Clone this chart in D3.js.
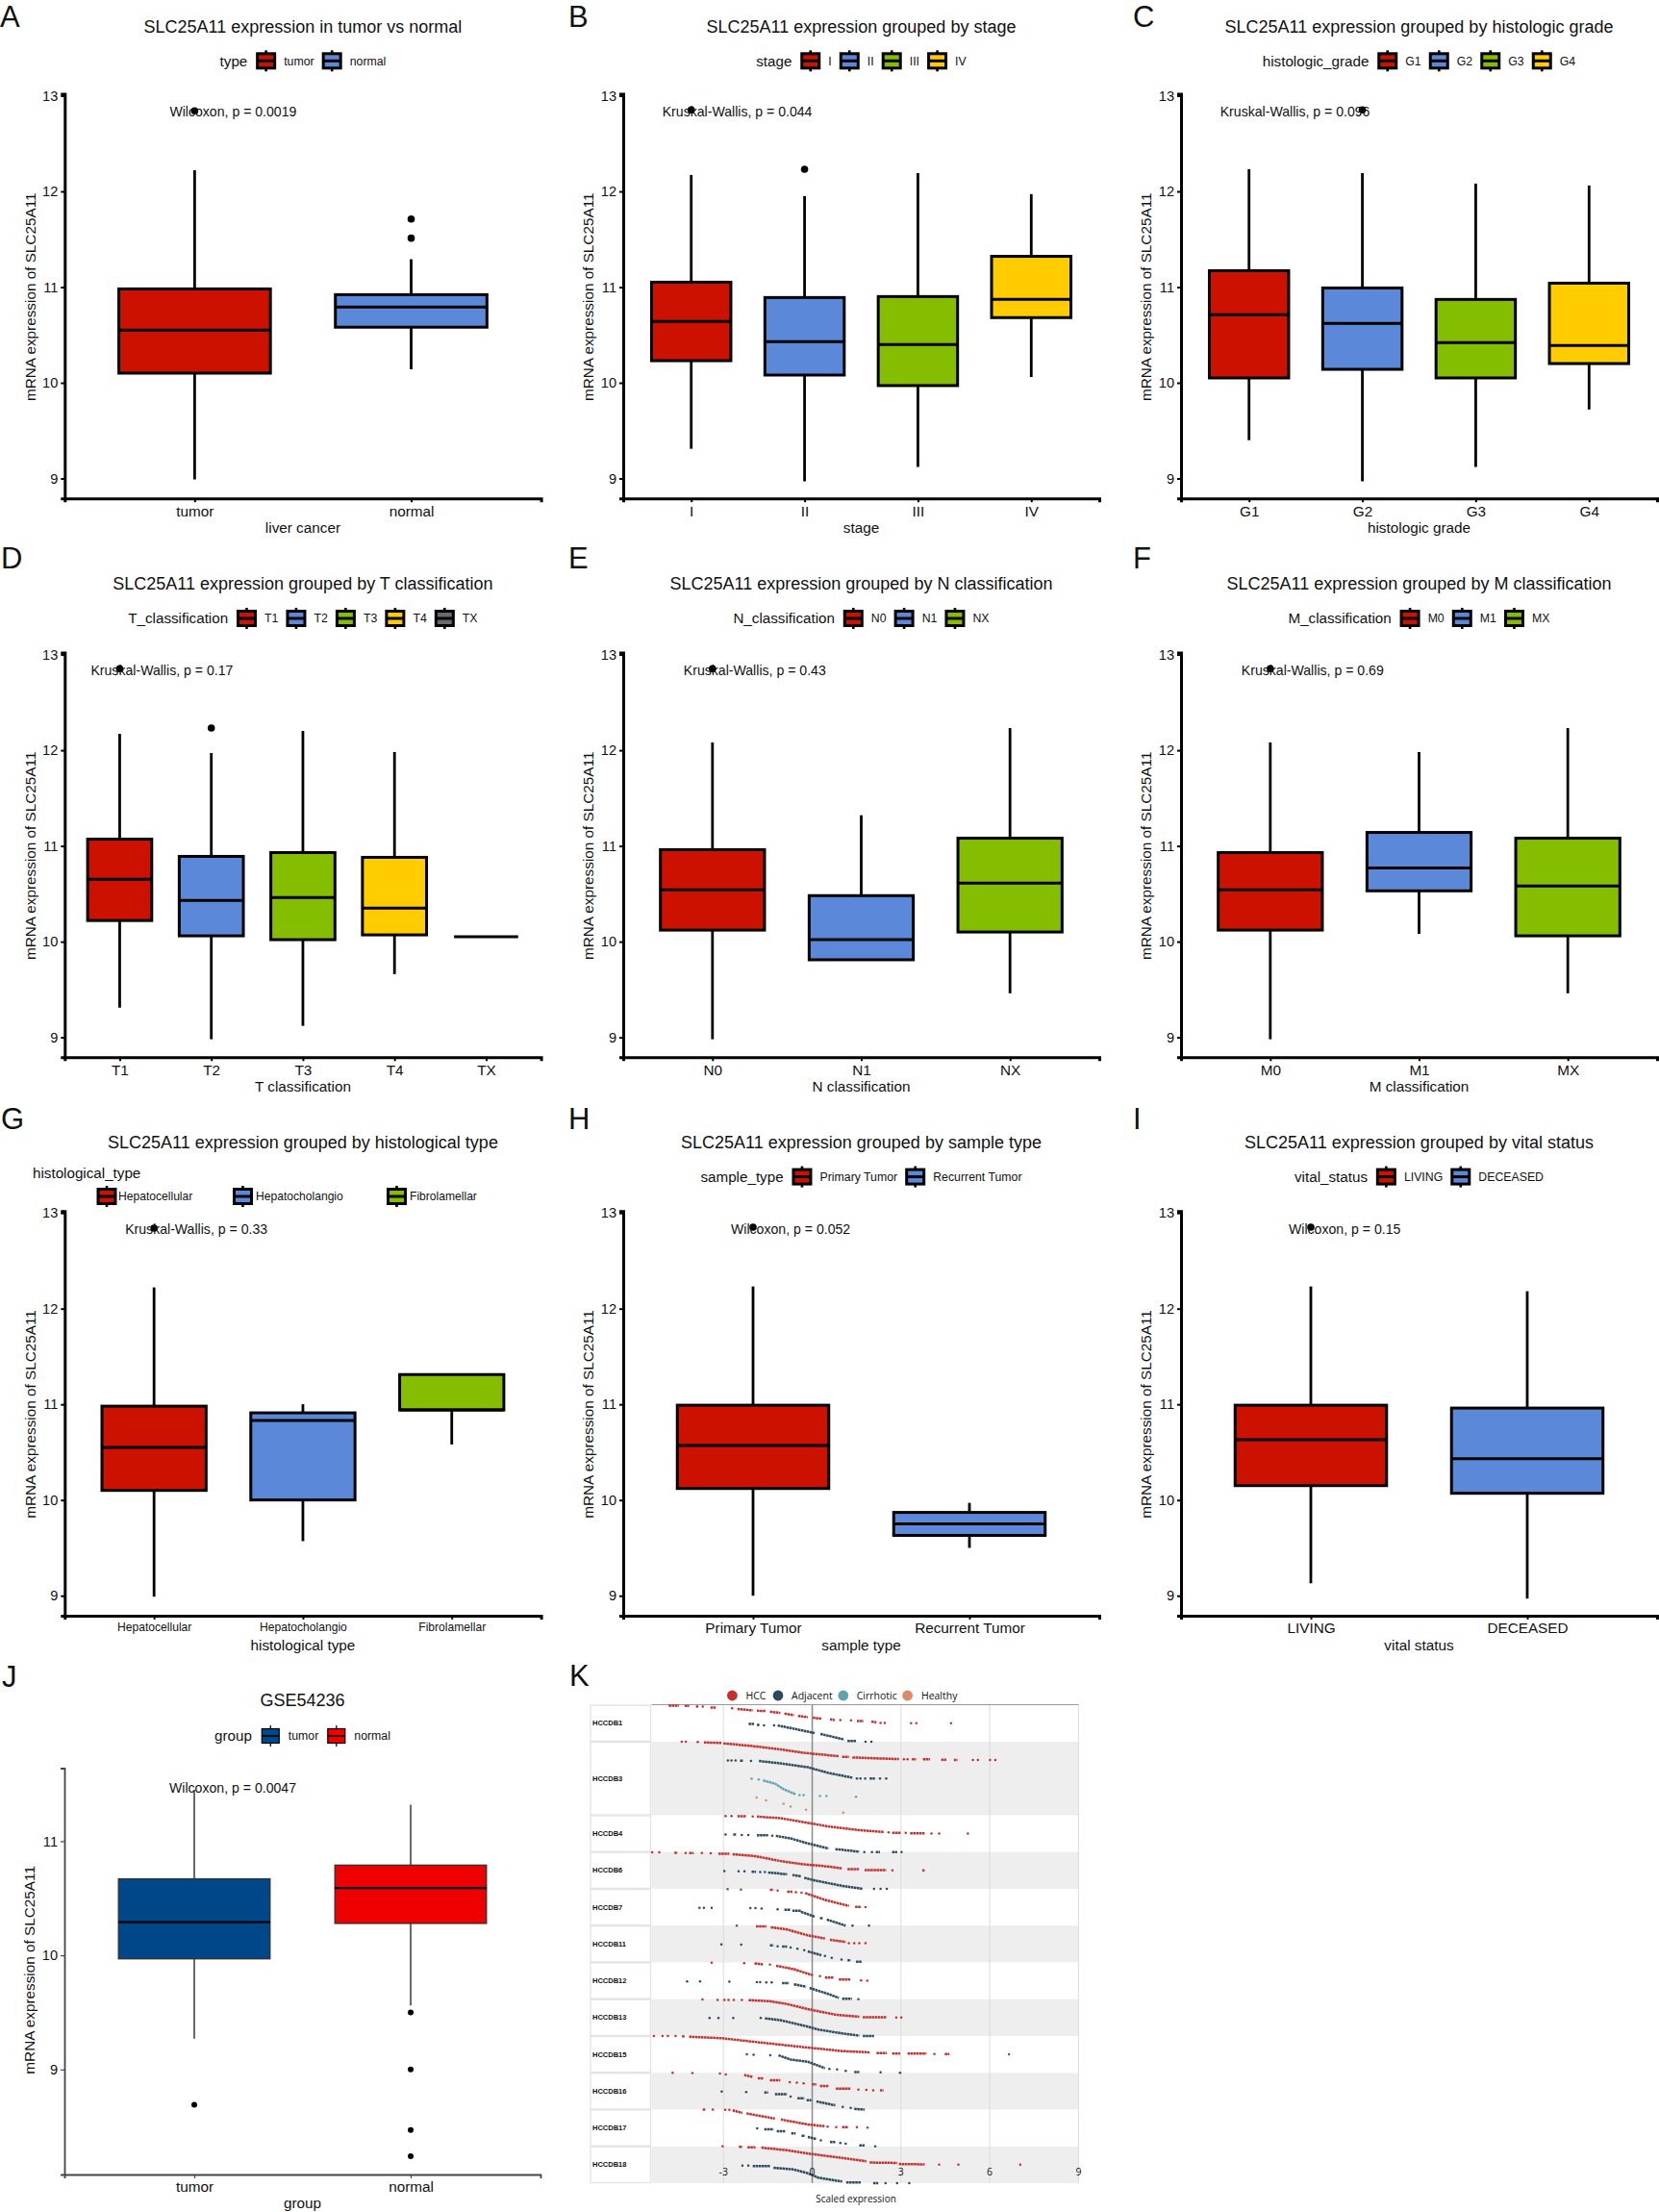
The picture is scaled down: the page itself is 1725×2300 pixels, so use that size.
<!DOCTYPE html>
<html><head><meta charset="utf-8">
<script src="https://cdn.jsdelivr.net/npm/d3@7/dist/d3.min.js"></script>
<style>html,body{margin:0;padding:0;background:#fff}svg{display:block}text{font-family:"Liberation Sans",Arial,sans-serif;fill:#111}</style>
</head><body><div id="c"></div>
<script>
// ---------- box plot data: [low whisker, Q1, median, Q3, high whisker]
const aCats=["tumor","normal"];
const aStats=[[8.99,10.10,10.55,10.98,12.22],[10.14,10.58,10.79,10.92,11.29]];
const aOut=[[0,12.84],[1,11.71],[1,11.51]];
const bCats=["I","II","III","IV"];
const bStats=[[9.31,10.23,10.64,11.05,12.17],[8.97,10.08,10.43,10.89,11.95],[9.12,9.97,10.40,10.90,12.19],[10.06,10.68,10.87,11.32,11.97]];
const bOut=[[0,12.85],[1,12.23]];
const cCats=["G1","G2","G3","G4"];
const cStats=[[9.40,10.05,10.71,11.17,12.23],[8.97,10.14,10.62,10.99,12.19],[9.12,10.05,10.42,10.87,12.08],[9.72,10.20,10.39,11.04,12.06]];
const cOut=[[1,12.85]];
const dCats=["T1","T2","T3","T4","TX"];
const dStats=[[9.31,10.22,10.65,11.07,12.17],[8.98,10.06,10.43,10.89,11.97],[9.12,10.02,10.46,10.93,12.20],[9.66,10.07,10.35,10.88,11.98],[10.05,10.05,10.05,10.05,10.05]];
const dOut=[[0,12.85],[1,12.23]];
const eCats=["N0","N1","NX"];
const eStats=[[8.98,10.12,10.54,10.96,12.08],[9.81,9.81,10.02,10.48,11.32],[9.46,10.10,10.61,11.08,12.23]];
const eOut=[[0,12.85]];
const fCats=["M0","M1","MX"];
const fStats=[[8.98,10.12,10.54,10.93,12.08],[10.08,10.53,10.77,11.14,11.98],[9.46,10.06,10.58,11.08,12.23]];
const fOut=[[0,12.85]];
const gCats=["Hepatocellular","Hepatocholangio","Fibrolamellar"];
const gStats=[[8.99,10.10,10.55,10.98,12.22],[9.57,10.00,10.83,10.91,11.00],[10.58,10.94,10.94,11.31,11.31]];
const gOut=[[0,12.84]];
const hCats=["Primary Tumor","Recurrent Tumor"];
const hStats=[[9.00,10.12,10.57,10.99,12.23],[9.50,9.63,9.75,9.87,9.97]];
const hOut=[[0,12.85]];
const iCats=["LIVING","DECEASED"];
const iStats=[[9.13,10.15,10.63,10.99,12.23],[8.97,10.07,10.43,10.96,12.18]];
const iOut=[[0,12.85]];
const jCats=["tumor","normal"];
const jStats=[[9.27,9.97,10.29,10.67,11.45],[9.56,10.28,10.59,10.79,11.32]];
const jOut=[[0,8.69],[1,9.50],[1,9.00],[1,8.47],[1,8.24]];
const exprTicks=[9,10,11,12,13];
const gseTicks=[9,10,11];

// ---------- panel K: scaled expression.
// Each entry is one run of [expression, rank within strip, ...]; single pairs are lone dots, longer ones dense stretches.
const kRows=["HCCDB1","HCCDB3","HCCDB4","HCCDB6","HCCDB7","HCCDB11","HCCDB12","HCCDB13","HCCDB15","HCCDB16","HCCDB17","HCCDB18"];
const kClasses=["HCC","Adjacent","Cirrhotic","Healthy"];
const kTicks=[-3,0,3,6,9];
const hcc1=[[-4.85,.04,-4.51,.04],[-4.28,.05],[-4.2,.05],[-3.93,.09,-3.85,.09],[-3.7,.1],[-3.44,.14,-3.26,.14],[-2.71,.18],[-2.53,.23,-2.01,.3],[-1.87,.32,-1.57,.33],[-1.43,.37,-1.08,.44],[-.94,.47,-.62,.56],[-.48,.6,-.15,.67],[.02,.7,.31,.75],[.6,.79,.76,.82],[.95,.82],[1.31,.84],[1.51,.88,1.73,.88],[2,.91,2.17,.95],[2.31,.98],[2.45,.98],[3.34,1],[3.52,1],[4.69,1]];
const adj1=[[-2.15,.04,-1.95,.04],[-1.87,.09,-1.78,.09],[-1.63,.12],[-1.29,.12],[-1.17,.12,-.73,.26,.08,.53],[.28,.58,1.07,.88],[1.19,.96,1.48,.96],[1.8,1],[2,1]];
const hcc3=[[-4.41,0],[-4.27,0],[-3.87,.02],[-3.66,.04,-3.06,.07],[-3,.09,-1.9,.26,-1.08,.42,-.27,.61,.9,.79],[1.01,.82,1.24,.82],[1.36,.86,2.93,.95],[3.1,.96],[3.22,.96],[3.37,.96,3.51,.96],[3.74,.96,3.98,.96],[4.36,.98,4.53,.98],[4.79,1,4.91,1],[5.43,1],[5.6,1],[6.01,1],[6.19,1]];
const adj3=[[-2.85,.02],[-2.73,.02],[-2.59,.02],[-2.44,.04,-2.33,.04],[-2.07,.05],[-1.8,.05,-1.08,.18,-.15,.39,.55,.7,1.36,.96],[1.51,1],[1.63,1],[1.79,1],[1.94,1,2.12,1],[2.29,1],[2.5,1]];
const cir3=[[-2.05,.02],[-1.81,.05],[-1.66,.11,-1.26,.28,-.97,.58,-.56,.86],[-.43,.91],[-.29,.91],[.26,.95],[.48,.95],[1.48,1]];
const hea3=[[-1.88,.04],[-1.56,.19],[-.97,.37],[-.73,.53],[-.21,.7],[1.05,.86]];
const hcc4=[[-2.93,.04],[-2.73,.04],[-2.53,.05,-2.24,.05],[-2.01,.07],[-1.87,.07,-1.08,.16,-.38,.35,.55,.61,1.48,.79,2.41,.91],[2.58,.93],[2.7,.95,2.99,.95],[3.16,.96],[3.31,.98,3.8,.98],[4.03,1],[4.29,1],[5.26,1]];
const adj4=[[-2.93,.05],[-2.67,.05,-2.56,.05],[-2.38,.07],[-2.16,.07],[-1.87,.09,-1.49,.09],[-1.35,.11],[-1.23,.12,-.73,.26,-.15,.53,.55,.81],[.78,.84,1.59,.98],[1.76,1],[2.02,1],[2.15,1,2.29,1],[2.7,1,2.87,1],[3.02,1]];
const hcc6=[[-5.41,.02],[-5.17,.02],[-4.66,.04,-4.55,.04],[-4.28,.05],[-4.16,.05,-4.01,.05],[-3.73,.05],[-3.43,.07],[-3.17,.09,-2.8,.09],[-2.69,.12,-1.9,.23,-1.08,.49,-.38,.65,.55,.79,1.01,.89],[1.19,.93,1.59,.93],[1.77,.98,2.5,.98],[2.71,1],[3.72,1,3.8,1]];
const adj6=[[-2.97,.04],[-2.49,.05],[-2.29,.05],[-2.05,.07,-1.9,.07],[-1.76,.09],[-1.6,.09],[-1.49,.11,-.85,.21],[-.67,.25,-.38,.32],[-.27,.4,.08,.54,1.01,.84,1.71,1],[2.09,1],[2.31,1],[2.52,1]];
const hcc7=[[-2.86,.02],[-2.41,.04],[-1.43,.05,-1.31,.05],[-1.17,.09],[-.85,.16,-.67,.16],[-.55,.19],[-.36,.21],[-.24,.23,.43,.6,1.24,.93],[1.45,.98,1.65,.98],[1.8,1]];
const adj7=[[-3.81,.04],[-3.66,.04],[-3.4,.04],[-2.09,.05],[-1.92,.05],[-1.71,.07],[-1.17,.11],[-.94,.14,-.73,.14],[-.67,.19,-.38,.19],[-.38,.25,.08,.51],[.26,.6,.37,.6],[.49,.67,1.13,1],[1.36,1],[1.92,1]];
const hcc11=[[-2.55,0],[-1.9,.04,-1.55,.04],[-1.4,.09,-.85,.21,-.15,.53,.43,.7],[.6,.77,1.13,.89],[1.24,.96],[1.42,.96],[1.59,.96],[1.8,.96]];
const adj11=[[-3.07,.02],[-2.4,.04],[-1.43,.07,-1.31,.07],[-1.17,.12],[-1.02,.14,-.85,.14],[-.73,.19],[-.5,.25],[-.27,.33],[-.15,.4,.31,.61],[.43,.65],[.66,.75],[.99,.84],[1.19,.88,1.3,.88],[1.48,.96,1.67,.96]];
const hcc12=[[-3.4,.02],[-2.3,.04],[-1.95,.05,-1.66,.11],[-1.43,.12],[-1.22,.18,-.62,.37,.02,.7],[.26,.74],[.43,.82,.72,.82],[.9,.93,1.3,.93],[1.65,.98],[1.86,1]];
const adj12=[[-4.23,.04],[-3.79,.04],[-2.8,.05],[-1.87,.07],[-1.76,.07],[-1.55,.09],[-1.37,.09],[-1.02,.12,-.79,.12],[-.62,.19,-.21,.32],[-.09,.39,.55,.72,.9,.93],[1.01,.98,1.34,.98],[1.56,1]];
const hcc13=[[-3.71,.02],[-3.2,.04],[-2.97,.04],[-2.83,.04],[-2.65,.04],[-2.38,.04],[-2.15,.05,-1.43,.11,-.85,.26,-.15,.54,.78,.84,1.59,.95],[1.71,.98,2.5,.98],[2.84,1],[3.01,1]];
const adj13=[[-3.47,.02],[-3.17,.02],[-2.67,.02],[-1.74,.02],[-1.6,.04,-1.08,.14,-.15,.49,.2,.65,1.01,.86,1.59,.98],[1.71,1,2.09,1]];
const hcc15=[[-5.35,0],[-5.06,0],[-4.88,0],[-4.62,0],[-4.4,.02,-4.31,.02],[-4.16,.04,-3.06,.12,-1.78,.35,-.15,.63,1.01,.82,1.94,.89],[2.17,.93,2.52,.93],[2.7,.95,2.97,.95],[3.22,.96,3.86,.96],[4.13,.98],[4.48,.98,4.64,.98],[6.65,1]];
const adj15=[[-2.21,0],[-1.98,.02],[-1.42,.04],[-1.14,.05,-.73,.28,-.15,.4,.43,.75],[.58,.79],[.84,.82],[1.13,.89],[1.42,.96,1.59,.96],[2.31,.98],[2.97,1]];
const hcc16=[[-4.72,0],[-4.05,.02],[-3.12,.04],[-2.92,.09],[-2.3,.12,-2.01,.23],[-1.84,.3,-1.66,.3],[-1.43,.4,-1.08,.4],[-.76,.51],[-.52,.54],[-.29,.58],[-.01,.63,.14,.63],[.26,.72,.55,.72],[.8,.86,1.3,.86],[1.56,.91],[1.83,.93],[2.06,.95],[2.29,.96,2.41,.96]];
const adj16=[[-3.06,.02],[-2.23,.04],[-1.62,.07,-1.49,.07],[-1.26,.16,-.85,.16],[-.73,.3],[-.5,.39,-.27,.39],[-.19,.49,-.03,.49],[.14,.56,.78,.77],[1.03,.86],[1.3,.91],[1.42,.96,1.77,1]];
const hcc17=[[-3.7,0,-3.6,0],[-3.36,0],[-2.94,.02],[-2.8,.02],[-2.69,.04,-2.36,.18],[-2.22,.21,-1.26,.49],[-1.06,.54,-.15,.81,.43,.91],[.52,.93],[.81,.95],[1.01,.95,1.22,.95],[1.51,.96],[1.87,.98]];
const adj17=[[-1.86,.02],[-1.62,.07,-1.31,.07],[-1.2,.18,-.91,.18],[-.71,.3,-.56,.3],[-.36,.42,-.24,.42],[-.15,.49,.14,.6],[.29,.67],[.6,.77,.78,.77],[.95,.82],[1.13,.86],[1.59,.95,1.77,.95],[2.13,1]];
const hcc18=[[-3.03,0],[-2.48,.02,-2.36,.02],[-2.19,.05,-1.92,.05],[-1.72,.07,-.85,.21,-.15,.39,1.01,.63,1.83,.81],[1.94,.88,2.87,.9],[2.93,.96,3.8,.98],[4.29,1],[4.94,1],[7.03,1]];
const adj18=[[-2.36,.04],[-2.16,.04],[-2.01,.07,-1.43,.07],[-1.31,.16,-.62,.26,-.15,.46,.2,.7,1.01,.91],[1.15,.96,1.65,.96],[2.06,1,2.23,1],[2.48,1],[2.87,1],[3.28,1]];
const kSeries=[[hcc1,adj1],[hcc3,adj3,cir3,hea3],[hcc4,adj4],[hcc6,adj6],[hcc7,adj7],[hcc11,adj11],[hcc12,adj12],[hcc13,adj13],[hcc15,adj15],[hcc16,adj16],[hcc17,adj17],[hcc18,adj18]];

// ---------- colours and layout
const RED="#cc1100",BLUE="#5b88d9",GREEN="#85bd00",YEL="#ffcc00",GREY="#666a70";
const W=1725,H=2300;
const svg=d3.select("#c").append("svg").attr("width",W).attr("height",H).attr("viewBox",[0,0,W,H]);
svg.append("rect").attr("width",W).attr("height",H).attr("fill","#fff");
const ROW=[{top:99.3,bot:497.5,axis:518.2,hd:0},{top:680.4,bot:1078.6,axis:1099.3,hd:-1.4},{top:1261,bot:1659.2,axis:1679.9,hd:-1.4}];
const COL=[[67.3,562.6],[648,1143],[1228,1723]];
const panels=[
 {l:"A",r:0,c:0,title:"SLC25A11 expression in tumor vs normal",leg:"type",xl:"liver cancer",cats:aCats,st:aStats,out:aOut,col:[RED,BLUE],p:"Wilcoxon, p = 0.0019",po:-26},
 {l:"B",r:0,c:1,title:"SLC25A11 expression grouped by stage",leg:"stage",xl:"stage",cats:bCats,st:bStats,out:bOut,col:[RED,BLUE,GREEN,YEL],p:"Kruskal-Wallis, p = 0.044",po:-30},
 {l:"C",r:0,c:2,title:"SLC25A11 expression grouped by histologic grade",leg:"histologic_grade",xl:"histologic grade",cats:cCats,st:cStats,out:cOut,col:[RED,BLUE,GREEN,YEL],p:"Kruskal-Wallis, p = 0.096",po:-30},
 {l:"D",r:1,c:0,title:"SLC25A11 expression grouped by T classification",leg:"T_classification",xl:"T classification",cats:dCats,st:dStats,out:dOut,col:[RED,BLUE,GREEN,YEL,GREY],p:"Kruskal-Wallis, p = 0.17",po:-30},
 {l:"E",r:1,c:1,title:"SLC25A11 expression grouped by N classification",leg:"N_classification",xl:"N classification",cats:eCats,st:eStats,out:eOut,col:[RED,BLUE,GREEN],p:"Kruskal-Wallis, p = 0.43",po:-30},
 {l:"F",r:1,c:2,title:"SLC25A11 expression grouped by M classification",leg:"M_classification",xl:"M classification",cats:fCats,st:fStats,out:fOut,col:[RED,BLUE,GREEN],p:"Kruskal-Wallis, p = 0.69",po:-30},
 {l:"G",r:2,c:0,title:"SLC25A11 expression grouped by histological type",leg:"histological_type",xl:"histological type",cats:gCats,st:gStats,out:gOut,col:[RED,BLUE,GREEN],p:"Kruskal-Wallis, p = 0.33",po:-30,small:true,twoRow:true},
 {l:"H",r:2,c:1,title:"SLC25A11 expression grouped by sample type",leg:"sample_type",xl:"sample type",cats:hCats,st:hStats,out:hOut,col:[RED,BLUE],p:"Wilcoxon, p = 0.052",po:-23},
 {l:"I",r:2,c:2,title:"SLC25A11 expression grouped by vital status",leg:"vital_status",xl:"vital status",cats:iCats,st:iStats,out:iOut,col:[RED,BLUE],p:"Wilcoxon, p = 0.15",po:-23},
];
const FS={title:18,leg:15.2,legLab:12.3,tick:15.3,ytick:14.6,lab:15.3,p:14.1};

function legend(g,cx,y,title,cats,cols,sw){
  const t=g.append("text").attr("y",y).attr("dy","0.35em").attr("font-size",FS.leg).text(title);
  const items=cats.map((c,i)=>{
    const k=g.append("g");
    k.append("line").attr("y1",-11).attr("y2",11).attr("stroke","#000").attr("stroke-width",sw?1.2:2.6);
    k.append("rect").attr("x",-9).attr("y",-7.5).attr("width",18).attr("height",15).attr("fill",cols[i]).attr("stroke","#000").attr("stroke-width",sw?1.2:3);
    k.append("line").attr("x1",-9).attr("x2",9).attr("stroke","#000").attr("stroke-width",sw?1.6:3);
    const tx=g.append("text").attr("y",y).attr("dy","0.35em").attr("font-size",FS.legLab).attr("fill","#222").text(c);
    return {k,tx,w:tx.node().getComputedTextLength()};
  });
  const tw=t.node().getComputedTextLength();
  const total=tw+9.6+d3.sum(items,d=>19.5+8.8+d.w)+8.8*(items.length-1);
  let x=cx-total/2;
  t.attr("x",x); x+=tw+9.6;
  items.forEach(d=>{d.k.attr("transform",`translate(${x+9.75},${y})`);x+=19.5+8.8;d.tx.attr("x",x);x+=d.w+8.8;});
}

function drawBoxes(g,P,x,y,thin){
  const bw=x.step()*0.7, lw=thin?1.4:3;
  P.st.forEach((s,i)=>{
    const [lo,q1,m,q3,hi]=s,cx=x(P.cats[i]);
    const wc=thin?"#444":"#000";
    if(hi>q3) g.append("line").attr("x1",cx).attr("x2",cx).attr("y1",y(hi)).attr("y2",y(q3)).attr("stroke",wc).attr("stroke-width",thin?1.6:2.8);
    if(lo<q1) g.append("line").attr("x1",cx).attr("x2",cx).attr("y1",y(q1)).attr("y2",y(lo)).attr("stroke",wc).attr("stroke-width",thin?1.6:2.8);
    g.append("rect").attr("x",cx-bw/2).attr("width",bw).attr("y",y(q3)).attr("height",Math.max(0,y(q1)-y(q3))).attr("fill",P.col[i]).attr("stroke",thin?"#333":"#000").attr("stroke-width",lw);
    g.append("line").attr("x1",cx-bw/2).attr("x2",cx+bw/2).attr("y1",y(m)).attr("y2",y(m)).attr("stroke","#000").attr("stroke-width",thin?2.2:3);
  });
  g.selectAll(null).data(P.out).join("circle").attr("cx",d=>x(P.cats[d[0]])).attr("cy",d=>y(d[1])).attr("r",thin?3:3.8).attr("fill","#000");
}

function axes(g,x,y,ticks,bottom,left,right,thin,small){
  const ax=g.append("g").attr("transform",`translate(0,${bottom})`).call(d3.axisBottom(x).tickSize(4).tickPadding(3.5));
  const ay=g.append("g").attr("transform",`translate(${left},0)`).call(d3.axisLeft(y).tickValues(ticks).tickSize(4).tickPadding(3).tickFormat(d3.format("d")));
  [ax,ay].forEach(a=>{
    a.selectAll(".domain").attr("stroke",thin?"#444":"#000").attr("stroke-width",thin?1.8:3);
    a.selectAll(".tick line").attr("stroke",thin?"#444":"#000").attr("stroke-width",thin?1.2:2);
    a.selectAll("text").attr("font-family",'"Liberation Sans"').attr("fill","#111");
  });
  ax.selectAll("text").attr("font-size",small?12.1:FS.tick);
  ay.selectAll("text").attr("font-size",FS.ytick);
}

function letter(s,x,y){svg.append("text").attr("x",x).attr("y",y).attr("font-size",31).attr("fill","#000").style("font-family",'"Liberation Sans"').text(s);}

panels.forEach(P=>{
  const R=ROW[P.r],[L,Rt]=COL[P.c],g=svg.append("g");
  const y=d3.scaleLinear().domain([9,13]).range([R.bot,R.top]);
  const x=d3.scalePoint().domain(P.cats).range([L,Rt]).padding(0.6);
  const cx=(L+Rt)/2;
  drawBoxes(g,P,x,y,false);
  const y2=y.copy().domain([y.invert(R.axis),13.02]).range([R.axis,R.top-1.8]);
  axes(g,x,y2,exprTicks,R.axis,L,Rt,false,P.small);
  g.append("text").attr("x",cx).attr("y",R.top-72+R.hd).attr("dy","0.35em").attr("text-anchor","middle").attr("font-size",FS.title).text(P.title);
  if(P.twoRow){
    g.append("text").attr("x",34).attr("y",R.top-41).attr("dy","0.35em").attr("font-size",FS.leg).text(P.leg);
    const xs=[111,252.5,412.5],lx=[123,266,426];
    P.cats.forEach((c,i)=>{
      const k=g.append("g").attr("transform",`translate(${xs[i]},${R.top-17})`);
      k.append("line").attr("y1",-11).attr("y2",11).attr("stroke","#000").attr("stroke-width",2.6);
      k.append("rect").attr("x",-9).attr("y",-7.5).attr("width",18).attr("height",15).attr("fill",P.col[i]).attr("stroke","#000").attr("stroke-width",3);
      k.append("line").attr("x1",-9).attr("x2",9).attr("stroke","#000").attr("stroke-width",3);
      g.append("text").attr("x",lx[i]).attr("y",R.top-17).attr("dy","0.35em").attr("font-size",12.1).attr("fill","#222").text(c);
    });
  } else legend(g,cx,R.top-36+R.hd,P.leg,P.cats,P.col,false);
  g.append("text").attr("x",x(P.cats[0])+P.po).attr("y",y(12.83)).attr("dy","0.35em").attr("font-size",FS.p).text(P.p);
  g.append("text").attr("x",cx).attr("y",R.axis+30.5).attr("dy","0.35em").attr("text-anchor","middle").attr("font-size",FS.lab).text(P.xl);
  g.append("text").attr("transform",`translate(${L-36},${(R.top+R.axis)/2}) rotate(-90)`).attr("dy","0.35em").attr("text-anchor","middle").attr("font-size",FS.lab).text("mRNA expression of SLC25A11");
});
[["A",0,28.2],["B",591,28.2],["C",1178,28.2],["D",1,591],["E",591,591],["F",1178,591],["G",1,1174],["H",591,1174],["I",1178,1174],["J",2,1754],["K",592,1753]].forEach(d=>letter(...d));

// ---------- panel J
(function(){
  const P={cats:jCats,st:jStats,out:jOut,col:["#00478a","#ee0000"]};
  const g=svg.append("g"),L=67,Rt=562,T=1838.5,B=2261;
  const y=d3.scaleLinear().domain([8.08,11.64]).range([B,T]);
  const x=d3.scalePoint().domain(jCats).range([L,Rt]).padding(0.6);
  drawBoxes(g,P,x,y,true);
  axes(g,x,y,gseTicks,B,L,Rt,true,false);
  const cx=(L+Rt)/2;
  g.append("text").attr("x",cx).attr("y",1768).attr("dy","0.35em").attr("text-anchor","middle").attr("font-size",FS.title).text("GSE54236");
  legend(g,cx,1805,"group",jCats,P.col,true);
  g.append("text").attr("x",x("tumor")-26).attr("y",y(11.47)).attr("dy","0.35em").attr("font-size",FS.p).text("Wilcoxon, p = 0.0047");
  g.append("text").attr("x",cx).attr("y",2290.5).attr("dy","0.35em").attr("text-anchor","middle").attr("font-size",FS.lab).text("group");
  g.append("text").attr("transform",`translate(31,${1720+892/2.7-2}) rotate(-90)`).attr("dy","0.35em").attr("text-anchor","middle").attr("font-size",FS.lab).text("mRNA expression of SLC25A11");
})();

// ---------- panel K
(function(){
  const g=svg.append("g");
  const F='"Open Sans"';
  const kColor=d3.scaleOrdinal(kClasses,["#c2312e","#2c4a5c","#5fa4ad","#dc8a68"]);
  const x=d3.scaleLinear().domain([-5.43,9]).range([677.5,1121.4]);
  let total=0;const starts=kSeries.map(s=>{const a=total;total+=s.length;return a;});
  const y=d3.scaleLinear().domain([0,total]).range([1772.7,2270]);
  kRows.forEach((r,i)=>{
    const a=starts[i],b=a+kSeries[i].length;
    if(i%2===1) g.append("rect").attr("x",x.range()[0]).attr("width",x.range()[1]-x.range()[0]).attr("y",y(a)).attr("height",y(b)-y(a)).attr("fill","#eeeeee");
    g.append("rect").attr("x",614).attr("width",62.5).attr("y",y(a)+.5).attr("height",y(b)-y(a)-1).attr("fill","#fff").attr("stroke","#e4e4e4").attr("stroke-width",1.4);
    g.append("text").attr("x",616).attr("y",(y(a)+y(b))/2).attr("dy","0.35em").attr("font-size",7.5).attr("font-weight","bold").attr("fill","#222").text(r);
  });
  kTicks.forEach(t=>{
    g.append("line").attr("x1",x(t)).attr("x2",x(t)).attr("y1",1772).attr("y2",2270).attr("stroke",t===0?"#8a8a8a":"#dcdcdc").attr("stroke-width",t===0?1.5:1);
  });
  g.append("line").attr("x1",677.5).attr("x2",1121.4).attr("y1",1772.5).attr("y2",1772.5).attr("stroke","#999").attr("stroke-width",1);
  const line=d3.line().x(d=>x(d[0])).y(d=>d[1]);
  kSeries.forEach((ser,i)=>ser.forEach((runs,c)=>{
    const col=kColor(kClasses[c]);
    runs.forEach(run=>{
      const pts=d3.pairs(run).filter((_,j)=>j%2===0).map(p=>[p[0],y(starts[i]+c+p[1])]);
      if(pts.length===1) g.append("circle").attr("cx",x(pts[0][0])).attr("cy",pts[0][1]).attr("r",1.25).attr("fill",col);
      else g.append("path").attr("d",line(pts)).attr("fill","none").attr("stroke",col).attr("stroke-width",2.5).attr("stroke-dasharray","2.6 0.5");
    });
  }));
  kTicks.forEach(t=>{
    g.append("text").attr("x",x(t)).attr("y",2258).attr("dy","0.35em").attr("text-anchor","middle").attr("font-size",10.5).attr("fill","#aaa").style("font-family",F).text(t);
  });
  g.append("text").attr("x",890).attr("y",2286).attr("dy","0.35em").attr("text-anchor","middle").attr("font-size",10).attr("fill","#888").style("font-family",F).text("Scaled expression");
  const dots=[761.4,809,876.8,943.6],labs=[775.4,823,890.7,957.9];
  kClasses.forEach((c,i)=>{
    g.append("circle").attr("cx",dots[i]).attr("cy",1763).attr("r",5.4).attr("fill",kColor(c));
    g.append("text").attr("x",labs[i]).attr("y",1763).attr("dy","0.35em").attr("font-size",10.5).attr("fill","#888").style("font-family",F).text(c);
  });
})();
</script></body></html>
